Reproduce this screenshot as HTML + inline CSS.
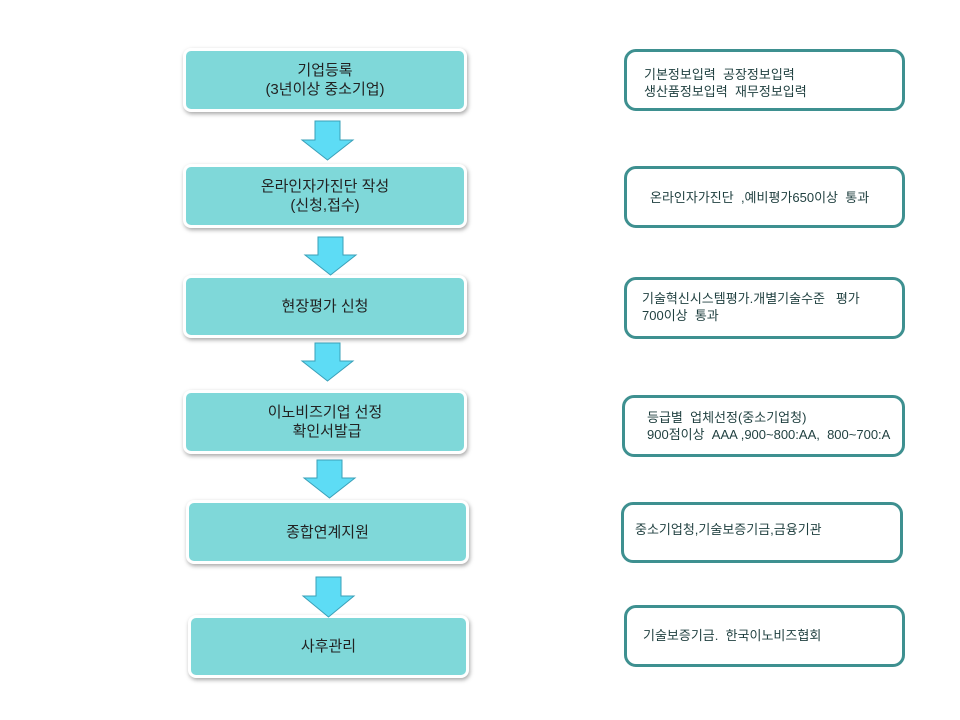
<!DOCTYPE html>
<html><head><meta charset="utf-8"><style>
body{margin:0;width:960px;height:720px;background:#fff;position:relative;overflow:hidden;font-family:"Liberation Sans","Noto Sans CJK KR",sans-serif}
.l{position:absolute;background:#7fd8d9;border:3px solid #fff;border-radius:8px;box-shadow:1px 2px 4px rgba(0,0,0,.35);box-sizing:border-box;display:flex;align-items:center;justify-content:center;text-align:center;font-size:15px;line-height:19px;color:#222}
.r{position:absolute;border:3px solid #3e9090;border-radius:12px;box-sizing:border-box;font-size:13px;line-height:17px;color:#1f3f3f;display:flex;align-items:center}
svg{position:absolute;left:0;top:0}
</style></head><body>
<div class="l" style="left:183px;top:48px;width:284px;height:64px">기업등록<br>(3년이상 중소기업)</div>
<div class="l" style="left:183px;top:164px;width:284px;height:64px">온라인자가진단 작성<br>(신청,접수)</div>
<div class="l" style="left:183px;top:275px;width:284px;height:63px">현장평가 신청</div>
<div class="l" style="left:183px;top:390px;width:284px;height:64px">이노비즈기업 선정<br>&nbsp;확인서발급</div>
<div class="l" style="left:186px;top:500px;width:283px;height:64px">종합연계지원</div>
<div class="l" style="left:188px;top:615px;width:281px;height:63px">사후관리</div>

<div class="r" style="left:624px;top:49px;width:281px;height:62px;padding-left:17px;align-items:flex-start;padding-top:14px">기본정보입력&nbsp; 공장정보입력<br>생산품정보입력&nbsp; 재무정보입력</div>
<div class="r" style="left:624px;top:166px;width:281px;height:62px;padding-left:23px">온라인자가진단&nbsp; ,예비평가650이상&nbsp; 통과</div>
<div class="r" style="left:624px;top:277px;width:281px;height:62px;padding-left:15px;align-items:flex-start;padding-top:10px">기술혁신시스템평가.개별기술수준&nbsp;&nbsp; 평가<br>700이상&nbsp; 통과</div>
<div class="r" style="left:622px;top:395px;width:283px;height:62px;padding-left:22px">등급별&nbsp; 업체선정(중소기업청)<br>900점이상&nbsp; AAA ,900~800:AA,&nbsp; 800~700:A</div>
<div class="r" style="left:621px;top:502px;width:282px;height:61px;padding-left:11px;align-items:flex-start;padding-top:16px">중소기업청,기술보증기금,금융기관</div>
<div class="r" style="left:624px;top:605px;width:281px;height:62px;padding-left:16px;align-items:flex-start;padding-top:19px">기술보증기금.&nbsp; 한국이노비즈협회</div>

<svg width="960" height="720">
<g fill="#5ddcf5" stroke="#3aa0b8" stroke-width="1">
<polygon points="315,121 340,121 340,140 353,140 327.5,160 302,140 315,140"/>
<polygon points="318,237 343,237 343,255 356,255 330.5,275 305,255 318,255"/>
<polygon points="315,343 340,343 340,361 353,361 327.5,381 302,361 315,361"/>
<polygon points="317,460 342,460 342,478 355,478 329.5,498 304,478 317,478"/>
<polygon points="316,577 341,577 341,596 354,596 328.5,617 303,596 316,596"/>
</g></svg>
</body></html>
